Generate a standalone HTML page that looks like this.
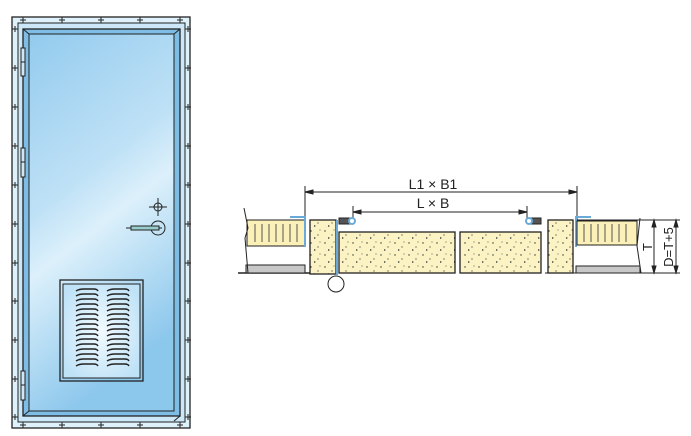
<!DOCTYPE html>
<html><head><style>
html,body{margin:0;padding:0;background:#fff;width:691px;height:436px;overflow:hidden}
svg{display:block}
text{font-family:"Liberation Sans",sans-serif;fill:#222}
</style></head><body>
<svg width="691" height="436" viewBox="0 0 691 436" xmlns="http://www.w3.org/2000/svg">
<defs>
<linearGradient id="dg" x1="0" y1="0" x2="0.3" y2="1">
<stop offset="0" stop-color="#93cbee"/>
<stop offset="0.45" stop-color="#bfe1f6"/>
<stop offset="0.6" stop-color="#dcf0fb"/>
<stop offset="1" stop-color="#8cc7ec"/>
</linearGradient>
<radialGradient id="vg" cx="0.5" cy="0.5" r="0.6">
<stop offset="0" stop-color="#f2faff"/><stop offset="1" stop-color="#bfe2f7"/>
</radialGradient>
<pattern id="dots" width="14" height="12" patternUnits="userSpaceOnUse">
<rect width="14" height="12" fill="#fbf3c4"/>
<circle cx="3" cy="3" r="0.7" fill="#333"/><circle cx="10" cy="7" r="0.6" fill="#333"/>
<path d="M6 9l2 1-2 1z" fill="#444"/><circle cx="12" cy="2" r="0.5" fill="#333"/>
</pattern>
</defs>
<rect x="12" y="17" width="178" height="411" fill="#dff1fb" stroke="#222" stroke-width="1.3"/>
<rect x="18" y="23" width="167" height="399" fill="#cce8f8" stroke="#222"/>
<rect x="23" y="29" width="157" height="387" fill="#7dbde6" stroke="#222" stroke-width="1.3"/>
<rect x="29" y="34" width="145" height="377" fill="url(#dg)" stroke="#222"/>
<g stroke="#222" stroke-width="1">
<path d="M23 29l6 5M180 29l-6 5M23 416l6-5M180 416l-6 5"/>
<g id="pl">
<path d="M12 29h6M15 26v6"/><path d="M12 68h6M15 65v6"/><path d="M12 107h6M15 104v6"/><path d="M12 146h6M15 143v6"/><path d="M12 185h6M15 182v6"/><path d="M12 224h6M15 221v6"/><path d="M12 263h6M15 260v6"/><path d="M12 301h6M15 298v6"/><path d="M12 340h6M15 337v6"/><path d="M12 379h6M15 376v6"/><path d="M12 417h6M15 414v6"/>
</g>
<use href="#pl" transform="translate(173,0)"/>
<path d="M59 20h6M62 17v6M98 20h6M101 17v6M137 20h6M140 17v6M177 20h6M180 17v6M20 20h6M23 17v6"/>
<path d="M20 425h6M23 422v6M59 425h6M62 422v6M98 425h6M101 422v6M137 425h6M140 422v6M177 425h6M180 422v6"/>
</g>
<g fill="#cfe6f5" stroke="#222">
<rect x="21" y="48" width="4" height="28"/><rect x="21" y="148" width="4" height="29"/><rect x="21" y="371" width="4" height="29"/>
</g>
<path d="M21 62h4M21 162h4M21 385h4" stroke="#222"/>
<g stroke="#222" fill="none">
<circle cx="158" cy="207" r="4"/><path d="M149 207h18M158 198v18"/>
<circle cx="158" cy="228" r="7"/><path d="M126 228h36"/>
<rect x="131" y="226" width="28" height="4" fill="#9cc" />
</g>
<rect x="60" y="280" width="83" height="101" fill="none" stroke="#222" stroke-width="1.3"/>
<rect x="63" y="284" width="77" height="94" fill="url(#vg)" stroke="#222"/>
<g stroke="#222" stroke-width="1.4" fill="none" id="lvs">
<path d="M76 291q3-2 8-2h10q3 0 4 2M76 296q3-2 8-2h10q3 0 4 2M76 301q3-2 8-2h10q3 0 4 2M76 306q3-2 8-2h10q3 0 4 2M76 311q3-2 8-2h10q3 0 4 2M76 316q3-2 8-2h10q3 0 4 2M76 321q3-2 8-2h10q3 0 4 2M76 326q3-2 8-2h10q3 0 4 2M76 331q3-2 8-2h10q3 0 4 2M76 336q3-2 8-2h10q3 0 4 2M76 341q3-2 8-2h10q3 0 4 2M76 346q3-2 8-2h10q3 0 4 2M76 351q3-2 8-2h10q3 0 4 2M76 356q3-2 8-2h10q3 0 4 2M76 361q3-2 8-2h10q3 0 4 2M76 366q3-2 8-2h10q3 0 4 2"/>
</g>
<use href="#lvs" transform="translate(31,0)"/>
<g stroke="#222" fill="none" stroke-width="1">
<path d="M305 192h272M305 186v45M577 186v45M353 212h174M353 206v18M527 206v18"/>
<path d="M305 192l8-2v4zM577 192l-8-2v4zM353 212l8-2v4zM527 212l-8-2v4z" fill="#222"/>
</g>
<text x="433" y="189" font-size="14" text-anchor="middle">L1 × B1</text>
<text x="433" y="208" font-size="14" text-anchor="middle">L × B</text>
<path d="M238 273h100" stroke="#222" stroke-width="1.5"/>
<rect x="247" y="220" width="58" height="26" fill="#fbf0b8" stroke="#222"/>
<g stroke="#555" fill="none"><path d="M255 224v18M262 224v18M269 224v18M276 224v18M283 224v18M290 224v18M297 224v18"/></g>
<rect x="246" y="265" width="59" height="8" fill="#c8c8c8" stroke="#222"/>
<path d="M244 208l4 20-3 10 3 35" stroke="#222" fill="none"/>
<path d="M290 217h15v30" stroke="#6aaad8" stroke-width="2" fill="none"/>
<rect x="310" y="220" width="26" height="54" fill="url(#dots)" stroke="#222" stroke-width="1.3"/>
<path d="M337 220v55" stroke="#6aaad8" stroke-width="2"/>
<circle cx="336" cy="284" r="8" fill="#fff" stroke="#222"/>
<rect x="339" y="218" width="12" height="6" fill="#555" stroke="#222"/>
<circle cx="352" cy="221" r="3" fill="#fff" stroke="#6aaad8" stroke-width="2"/>
<rect x="339" y="232" width="116" height="41" fill="url(#dots)" stroke="#222" stroke-width="1.3"/>
<rect x="460" y="232" width="81" height="41" fill="url(#dots)" stroke="#222" stroke-width="1.3"/>
<rect x="529" y="218" width="12" height="6" fill="#555" stroke="#222"/>
<circle cx="529" cy="221" r="3" fill="#fff" stroke="#6aaad8" stroke-width="2"/>
<rect x="548" y="220" width="25" height="53" fill="url(#dots)" stroke="#222" stroke-width="1.3"/>
<path d="M576 247v-30h15" stroke="#6aaad8" stroke-width="2" fill="none"/>
<rect x="577" y="221" width="60" height="24" fill="#fbf0b8" stroke="#222"/>
<g stroke="#555" fill="none"><path d="M584 224v18M591 224v18M598 224v18M605 224v18M612 224v18M619 224v18M626 224v18"/></g>
<rect x="576" y="266" width="64" height="7" fill="#c8c8c8" stroke="#222"/>
<path d="M545 273h135M577 220h103M640 218l-3 28 4 27" stroke="#222" fill="none"/>
<path d="M654 220v53M676 220v53M654 220l-2 7h4zM654 273l-2-7h4zM676 220l-2 7h4zM676 273l-2-7h4z" stroke="#222" fill="#222"/>
<text font-size="13" transform="translate(652,247) rotate(-90)" text-anchor="middle">T</text>
<text font-size="13" transform="translate(673,247) rotate(-90)" text-anchor="middle">D=T+5</text>
</svg>
</body></html>
